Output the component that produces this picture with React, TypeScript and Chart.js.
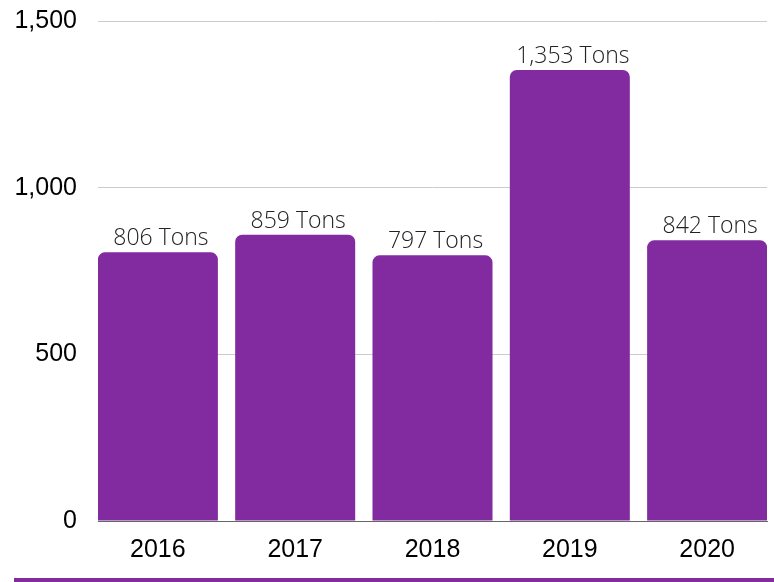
import React, { useEffect, useRef } from "react";
import { Chart, registerables } from "chart.js";

Chart.register(...registerables);

const years: string[] = ["2016", "2017", "2018", "2019", "2020"];
const tons: number[] = [806, 859, 797, 1353, 842];
const yTicks: number[] = [0, 500, 1000, 1500];

const PURPLE = "#822ba0";

const valueLabels = {
  id: "valueLabels",
  afterDatasetsDraw(chart: any) {
    const ctx = chart.ctx;
    const meta = chart.getDatasetMeta(0);
    ctx.save();
    ctx.font = "300 23px 'Open Sans'";
    ctx.fillStyle = "#222222";
    ctx.textAlign = "center";
    ctx.textBaseline = "alphabetic";
    meta.data.forEach((bar: any, i: number) => {
      const v = tons[i];
      ctx.fillText(`${v.toLocaleString("en-US")} Tons`, bar.x + 3, bar.y - 7);
    });
    ctx.restore();
  },
};

export default function App() {
  const canvasRef = useRef<HTMLCanvasElement | null>(null);

  useEffect(() => {
    if (!canvasRef.current) return;
    const chart = new Chart(canvasRef.current, {
      type: "bar",
      data: {
        datasets: [
          {
            data: tons.map((v, i) => ({ x: i, y: v })),
            backgroundColor: PURPLE,
            borderWidth: 0,
            borderRadius: { topLeft: 7, topRight: 7, bottomLeft: 0, bottomRight: 0 },
            borderSkipped: "bottom",
            categoryPercentage: 1,
            barPercentage: 0.874,
          },
        ],
      },
      options: {
        animation: false,
        responsive: true,
        maintainAspectRatio: false,
        layout: { padding: { left: 0, right: 7, top: 21, bottom: 0 } },
        plugins: {
          legend: { display: false },
          tooltip: { enabled: false },
        },
        scales: {
          x: {
            type: "linear",
            offset: false,
            bounds: "ticks",
            min: -0.436,
            max: 4.436,
            grid: { display: false, drawTicks: false, offset: false },
            border: { display: true, color: "#666666", width: 1 },
            afterBuildTicks: (scale: any) => {
              scale.ticks = years.map((_, i) => ({ value: i }));
            },
            afterFit: (scale: any) => {
              scale.height = 61;
              scale.paddingLeft = 0;
              scale.paddingRight = 0;
            },
            ticks: {
              autoSkip: false,
              maxRotation: 0,
              padding: 14,
              color: "#000000",
              font: { family: "'Liberation Sans', Arial, sans-serif", size: 25 },
              callback: (v: any) => years[Math.round(Number(v))] ?? "",
            },
          },
          y: {
            min: 0,
            max: 1500,
            afterBuildTicks: (scale: any) => {
              scale.ticks = yTicks.map((v) => ({ value: v }));
            },
            afterFit: (scale: any) => {
              scale.width = 98;
              scale.paddingTop = 0;
              scale.paddingBottom = 0;
            },
            grid: { color: "#cccccc", lineWidth: 1, drawTicks: false },
            border: { display: false },
            ticks: {
              padding: 21,
              color: "#000000",
              font: { family: "'Liberation Sans', Arial, sans-serif", size: 25 },
              callback: (v: any) => Number(v).toLocaleString("en-US"),
            },
          },
        },
      },
      plugins: [valueLabels],
    });
    return () => chart.destroy();
  }, []);

  return (
    <div
      style={{
        position: "fixed",
        left: 0,
        top: 0,
        width: 774,
        height: 582,
        background: "#ffffff",
        overflow: "hidden",
      }}
    >
      <canvas ref={canvasRef} />
      <div
        style={{
          position: "absolute",
          left: 14,
          top: 578,
          width: 760,
          height: 4,
          background: PURPLE,
        }}
      />
    </div>
  );
}
